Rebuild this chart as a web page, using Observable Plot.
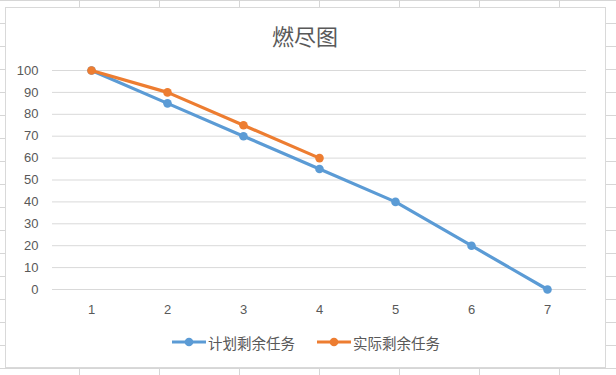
<!DOCTYPE html>
<html>
<head>
<meta charset="utf-8">
<script src="https://cdn.jsdelivr.net/npm/d3@7"></script>
<script src="https://cdn.jsdelivr.net/npm/@observablehq/plot@0.6"></script>
<style>
  html, body { margin: 0; padding: 0; }
  body {
    width: 616px; height: 375px; overflow: hidden; position: relative;
    background-color: #fff;
    background-image:
      linear-gradient(to right, #d6d6d6 1px, transparent 1px),
      linear-gradient(to bottom, #d6d6d6 1px, transparent 1px);
    background-size: 80px 23px, 80px 23px;
    background-position: 79px 0, 0 0;
  }
  #box {
    position: absolute; left: 5px; top: 7px; width: 599px; height: 359px;
    border: 1px solid #d9d9d9; background: #fff;
  }
  #chart { position: absolute; left: 0; top: 0; }
  #title {
    position: absolute; left: 5px; top: 20px; width: 600px; text-align: center;
    font-family: "Noto Sans CJK SC", sans-serif; font-size: 22px; line-height: 30px;
    color: #595959;
  }
  .legend-item {
    position: absolute; top: 332px; height: 20px; display: flex; align-items: center;
    font-family: "Noto Sans CJK SC", sans-serif; font-size: 14.5px; color: #595959;
  }
  .legend-item svg { margin-right: 2px; }
</style>
</head>
<body>
<div id="box"></div>
<div id="chart"></div>
<div id="title">燃尽图</div>
<div id="legend"></div>
<script>
const categories = ["1", "2", "3", "4", "5", "6", "7"];
const plannedValues = [100, 85, 70, 55, 40, 20, 0];
const actualValues = [100, 90, 75, 60];
const yTicks = [0, 10, 20, 30, 40, 50, 60, 70, 80, 90, 100];
const seriesNames = ["计划剩余任务", "实际剩余任务"];
const seriesColors = ["#5B9BD5", "#ED7D31"];

const planned = plannedValues.map((v, i) => ({cat: categories[i], value: v}));
const actual = actualValues.map((v, i) => ({cat: categories[i], value: v}));

const chart = Plot.plot({
  width: 616,
  height: 375,
  marginLeft: 52,
  marginRight: 30,
  marginTop: 70,
  marginBottom: 86,
  style: {background: "transparent", fontFamily: "'Liberation Sans', 'Noto Sans CJK SC', sans-serif", fontSize: "13px", color: "#595959"},
  x: {type: "point", domain: categories, padding: 0.5, label: null},
  y: {domain: [0, 100], label: null},
  marks: [
    Plot.ruleY(yTicks, {stroke: "#d9d9d9", strokeWidth: 1}),
    Plot.axisX({tickSize: 0, tickPadding: 15, label: null, fill: "#595959"}),
    Plot.axisY(yTicks, {tickSize: 0, tickPadding: 14, label: null, fill: "#595959"}),
    Plot.line(planned, {x: "cat", y: "value", stroke: seriesColors[0], strokeWidth: 3.2}),
    Plot.dot(planned, {x: "cat", y: "value", r: 4.3, fill: seriesColors[0]}),
    Plot.line(actual, {x: "cat", y: "value", stroke: seriesColors[1], strokeWidth: 3.2}),
    Plot.dot(actual, {x: "cat", y: "value", r: 4.3, fill: seriesColors[1]})
  ]
});
document.getElementById("chart").appendChild(chart);

const legend = document.getElementById("legend");
const lefts = [172, 317];
seriesNames.forEach((name, i) => {
  const item = document.createElement("div");
  item.className = "legend-item";
  item.style.left = lefts[i] + "px";
  item.innerHTML = `<svg width="34" height="12"><line x1="0" y1="6" x2="34" y2="6" stroke="${seriesColors[i]}" stroke-width="3.2"/><circle cx="17" cy="6" r="4.3" fill="${seriesColors[i]}"/></svg><span>${name}</span>`;
  legend.appendChild(item);
});
</script>
</body>
</html>
